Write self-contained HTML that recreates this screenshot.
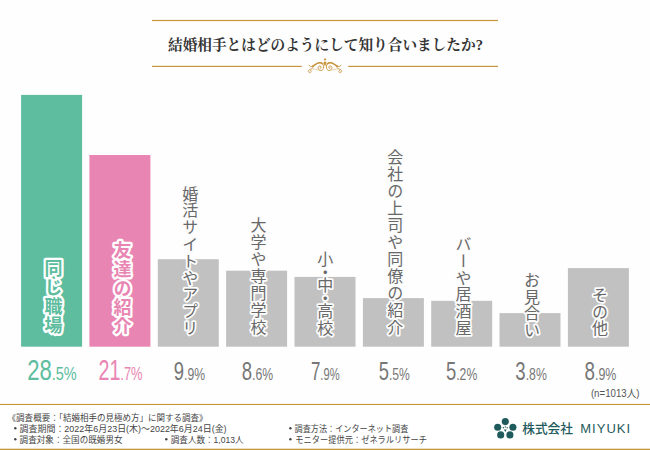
<!DOCTYPE html>
<html><head><meta charset="utf-8"><title>chart</title>
<style>html,body{margin:0;padding:0;background:#fff;font-family:"Liberation Sans",sans-serif}svg{display:block}</style></head>
<body><svg width="650" height="450" viewBox="0 0 650 450">
<rect x="0" y="0" width="650" height="450" fill="#fefefe"/>
<rect x="0" y="405" width="650" height="45" fill="#fff"/>
<g fill="#c8963f">
<rect x="152" y="19.9" width="346" height="1.2"/>
<rect x="152" y="65.8" width="149.8" height="1.2"/>
<rect x="348.2" y="65.8" width="149.8" height="1.2"/>
<rect x="0" y="403.9" width="650" height="1.15"/>
<rect x="0" y="448.7" width="650" height="1.3"/>
</g>
<text x="168" y="49.5" font-size="14.7" font-weight="bold" fill="#333" font-family='"Liberation Serif", "Noto Serif CJK SC", serif' textLength="315" lengthAdjust="spacingAndGlyphs">結婚相手とはどのようにして知り合いましたか?</text>
<rect x="21.1" y="94.9" width="61" height="251.8" fill="#5dbd9e"/>
<rect x="89.4" y="155.0" width="61" height="191.7" fill="#e985b2"/>
<rect x="157.8" y="259.2" width="61" height="87.5" fill="#c1c1c1"/>
<rect x="226.1" y="270.7" width="61" height="76.0" fill="#c1c1c1"/>
<rect x="294.5" y="276.9" width="61" height="69.8" fill="#c1c1c1"/>
<rect x="362.9" y="298.1" width="61" height="48.6" fill="#c1c1c1"/>
<rect x="431.2" y="300.8" width="61" height="45.9" fill="#c1c1c1"/>
<rect x="499.5" y="313.1" width="61" height="33.6" fill="#c1c1c1"/>
<rect x="567.9" y="268.1" width="61" height="78.6" fill="#c1c1c1"/>
<g font-family='"Liberation Sans", "Noto Sans CJK JP", sans-serif' style="writing-mode:vertical-rl" writing-mode="vertical-rl">
<text x="51.6" y="259" font-size="18" font-weight="bold" letter-spacing="1" fill="#5dbd9e" stroke="#fff" stroke-width="4.6" stroke-linejoin="round" paint-order="stroke">同じ職場</text>
<text x="120.6" y="241" font-size="18" font-weight="bold" letter-spacing="1" fill="#e985b2" stroke="#fff" stroke-width="4.6" stroke-linejoin="round" paint-order="stroke">友達の紹介</text>
<text x="188.7" y="185.5" font-size="16" letter-spacing="0.8" fill="#686868" stroke="#fcfcfc" stroke-width="3.6" stroke-linejoin="round" paint-order="stroke">婚活サイトやアプリ</text>
<text x="257" y="216.5" font-size="16" letter-spacing="1" fill="#686868" stroke="#fcfcfc" stroke-width="3.6" stroke-linejoin="round" paint-order="stroke">大学や専門学校</text>
<text x="393.7" y="148.5" font-size="16" letter-spacing="1" fill="#686868" stroke="#fcfcfc" stroke-width="3.6" stroke-linejoin="round" paint-order="stroke">会社の上司や同僚の紹介</text>
<text x="462" y="236" font-size="16" letter-spacing="0.8" fill="#686868" stroke="#fcfcfc" stroke-width="3.6" stroke-linejoin="round" paint-order="stroke">バーや居酒屋</text>
<text x="530.5" y="272" font-size="16" letter-spacing="0.5" fill="#686868" stroke="#fcfcfc" stroke-width="3.6" stroke-linejoin="round" paint-order="stroke">お見合い</text>
<text x="598.5" y="287" font-size="16" letter-spacing="0.5" fill="#686868" stroke="#fcfcfc" stroke-width="3.6" stroke-linejoin="round" paint-order="stroke">その他</text>
</g>
<g font-family='"Liberation Sans", "Noto Sans CJK JP", sans-serif' font-size="16" text-anchor="middle" fill="#686868" stroke="#fcfcfc" stroke-width="3.6" stroke-linejoin="round" paint-order="stroke">
<text x="325.3" y="265">小</text>
<text x="325.3" y="278">・</text>
<text x="325.3" y="291">中</text>
<text x="325.3" y="304">・</text>
<text x="325.3" y="317">高</text>
<text x="325.3" y="334">校</text>
</g>
<g font-family='"Liberation Sans", sans-serif'>
<text x="27.2" y="379.9" fill="#5dbd9e" textLength="49.5" lengthAdjust="spacingAndGlyphs"><tspan font-size="29">28</tspan><tspan font-size="19">.5%</tspan></text>
<text x="98.5" y="379.9" fill="#e985b2" textLength="44" lengthAdjust="spacingAndGlyphs"><tspan font-size="29">21</tspan><tspan font-size="19">.7%</tspan></text>
<text x="173.8" y="380.1" fill="#777" textLength="31.3" lengthAdjust="spacingAndGlyphs"><tspan font-size="25">9</tspan><tspan font-size="16.5">.9%</tspan></text>
<text x="241.7" y="380.1" fill="#777" textLength="31.4" lengthAdjust="spacingAndGlyphs"><tspan font-size="25">8</tspan><tspan font-size="16.5">.6%</tspan></text>
<text x="310.9" y="380.1" fill="#777" textLength="28.7" lengthAdjust="spacingAndGlyphs"><tspan font-size="25">7</tspan><tspan font-size="16.5">.9%</tspan></text>
<text x="378.8" y="380.1" fill="#777" textLength="31.1" lengthAdjust="spacingAndGlyphs"><tspan font-size="25">5</tspan><tspan font-size="16.5">.5%</tspan></text>
<text x="446" y="380.1" fill="#777" textLength="31.2" lengthAdjust="spacingAndGlyphs"><tspan font-size="25">5</tspan><tspan font-size="16.5">.2%</tspan></text>
<text x="515.3" y="380.1" fill="#777" textLength="31.5" lengthAdjust="spacingAndGlyphs"><tspan font-size="25">3</tspan><tspan font-size="16.5">.8%</tspan></text>
<text x="584.5" y="380.1" fill="#777" textLength="31.9" lengthAdjust="spacingAndGlyphs"><tspan font-size="25">8</tspan><tspan font-size="16.5">.9%</tspan></text>
</g>
<text x="590.9" y="396.55" font-size="10.5" fill="#555" font-family='"Liberation Sans", "Noto Sans CJK JP", sans-serif' textLength="48.7" lengthAdjust="spacingAndGlyphs">(n=1013人)</text>
<g font-family='"Liberation Sans", "Noto Sans CJK JP", sans-serif' font-size="8.7" fill="#444">
<text x="7.6" y="420.7" textLength="200" lengthAdjust="spacingAndGlyphs">《調査概要：「結婚相手の見極め方」に関する調査》</text>
<text x="19.6" y="431.8" textLength="207" lengthAdjust="spacingAndGlyphs">調査期間：2022年6月23日(木)～2022年6月24日(金)</text>
<text x="294.6" y="431.8" textLength="113.7" lengthAdjust="spacingAndGlyphs">調査方法：インターネット調査</text>
<text x="19.6" y="442.9" textLength="103" lengthAdjust="spacingAndGlyphs">調査対象：全国の既婚男女</text>
<text x="170.8" y="442.9" textLength="72.7" lengthAdjust="spacingAndGlyphs">調査人数：1,013人</text>
<text x="295.3" y="442.9" textLength="131.7" lengthAdjust="spacingAndGlyphs">モニター提供元：ゼネラルリサーチ</text>
</g>
<g fill="#444"><circle cx="15.3" cy="428.2" r="1.2"/><circle cx="15.3" cy="439.3" r="1.2"/><circle cx="166.3" cy="439.3" r="1.2"/><circle cx="290.4" cy="428.2" r="1.2"/><circle cx="290.4" cy="439.3" r="1.2"/></g>
<g fill="#1f5b5d">
<circle cx="505.3" cy="421.6" r="3.55"/>
<circle cx="497.7" cy="427.2" r="3.55"/>
<circle cx="512.9" cy="427.2" r="3.55"/>
<circle cx="500.7" cy="434.9" r="3.55"/>
<circle cx="509.9" cy="434.9" r="3.55"/>
<circle cx="503.4" cy="427.7" r="0.7"/><circle cx="507.2" cy="427.7" r="0.7"/><circle cx="505.3" cy="426.9" r="0.65"/>
<path d="M503.9 429.5L506.7 429.5L505.3 431.9Z"/>
<text x="522.2" y="433.2" font-size="12.7" font-weight="500" font-family='"Liberation Sans", "Noto Sans CJK JP", sans-serif' textLength="50.8" lengthAdjust="spacingAndGlyphs">株式会社</text>
<text x="580.2" y="433.2" font-size="13" font-family='"Liberation Sans", sans-serif' textLength="50" lengthAdjust="spacing">MIYUKI</text>
</g>
<g fill="none" stroke="#c8963f" stroke-linecap="round" stroke-linejoin="round">
<g><path stroke-width="0.95" d="M309 65.2C309.5 66.2 310.6 66.6 311.8 66.5C314.6 66.2 316 63 319.4 62.6C322 62.3 323.6 64.4 323.6 66.8C323.6 69.2 322.4 70.5 320.9 70.5C319.2 70.5 318 69.1 318.1 67.6C318.2 66.5 319.2 65.8 320.2 66C321.1 66.2 321.5 67.2 321 67.9C320.7 68.3 320.3 68.4 320 68.2"/><path stroke-width="1.5" d="M312.6 66.2C314.8 65.2 316.2 63.1 319.4 62.7C320.6 62.6 321.6 62.9 322.3 63.6"/><path stroke-width="0.8" d="M313.3 66.4C313 67.8 312.2 68.8 311 69.1C309.6 69.4 308.3 70 308.3 71.2C308.3 72.3 309.3 72.9 310.3 72.6C311.2 72.3 311.6 71.3 311 70.7C310.6 70.3 309.9 70.5 309.8 71"/><path stroke-width="0.55" stroke-opacity="0.75" d="M311.6 68.9C313.5 68.7 316 69.3 318.6 70.2"/></g>
<g transform="translate(650,0) scale(-1,1)"><path stroke-width="0.95" d="M309 65.2C309.5 66.2 310.6 66.6 311.8 66.5C314.6 66.2 316 63 319.4 62.6C322 62.3 323.6 64.4 323.6 66.8C323.6 69.2 322.4 70.5 320.9 70.5C319.2 70.5 318 69.1 318.1 67.6C318.2 66.5 319.2 65.8 320.2 66C321.1 66.2 321.5 67.2 321 67.9C320.7 68.3 320.3 68.4 320 68.2"/><path stroke-width="1.5" d="M312.6 66.2C314.8 65.2 316.2 63.1 319.4 62.7C320.6 62.6 321.6 62.9 322.3 63.6"/><path stroke-width="0.8" d="M313.3 66.4C313 67.8 312.2 68.8 311 69.1C309.6 69.4 308.3 70 308.3 71.2C308.3 72.3 309.3 72.9 310.3 72.6C311.2 72.3 311.6 71.3 311 70.7C310.6 70.3 309.9 70.5 309.8 71"/><path stroke-width="0.55" stroke-opacity="0.75" d="M311.6 68.9C313.5 68.7 316 69.3 318.6 70.2"/></g>
</g>
<g fill="#c8963f">
<path d="M325 57.9C325.25 58.8 325.6 59.15 326.5 59.4C325.6 59.65 325.25 60 325 60.9C324.75 60 324.4 59.65 323.5 59.4C324.4 59.15 324.75 58.8 325 57.9Z"/>
<circle cx="325" cy="59.4" r="0.85"/>
<path d="M325 61.6C326.2 61.6 326.7 62.4 326.5 63.2C326.3 64.3 325.4 65.2 325 66.4C324.6 65.2 323.7 64.3 323.5 63.2C323.3 62.4 323.8 61.6 325 61.6Z"/>
</g>

</svg></body></html>
